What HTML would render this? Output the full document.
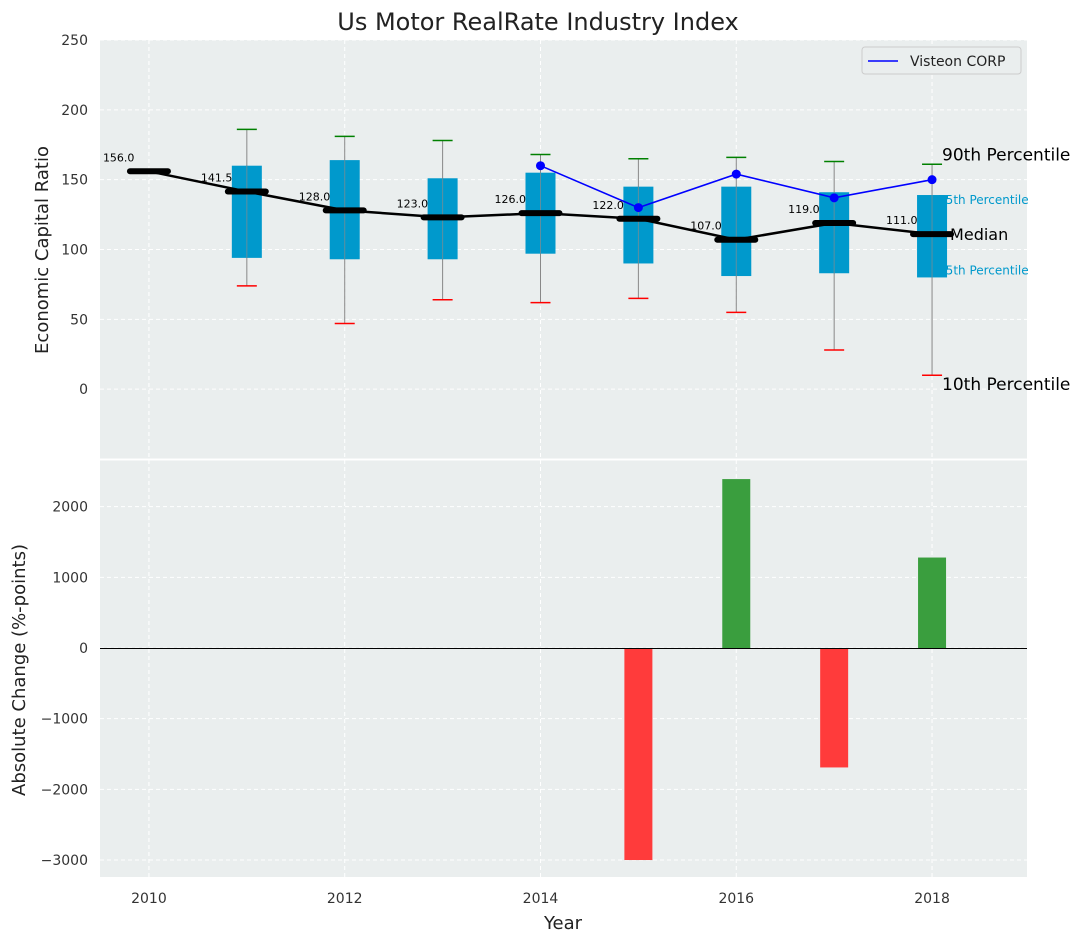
<!DOCTYPE html>
<html><head><meta charset="utf-8"><style>
body{margin:0;background:#fff;font-family:"Liberation Sans","DejaVu Sans",sans-serif;}
svg text{font-family:"DejaVu Sans","Liberation Sans",sans-serif;}
</style></head><body>
<svg id="c" width="1077" height="942" xmlns="http://www.w3.org/2000/svg"></svg>
<script>
const years=[2010,2011,2012,2013,2014,2015,2016,2017,2018];
const medians=[156,141.5,128,123,126,122,107,119,111];
const q1=[null,94,93,93,97,90,81,83,80];
const q3=[null,160,164,151,155,145,145,141,139];
const p10=[null,74,47,64,62,65,55,28,10];
const p90=[null,186,181,178,168,165,166,163,161];
const peerYears=[2014,2015,2016,2017,2018];
const peerVals=[160,130,154,137,150];
const chgYears=[2015,2016,2017,2018];
const chgVals=[-3000,2390,-1690,1280];
const topTicks=[0,50,100,150,200,250];
const botTicks=[-3000,-2000,-1000,0,1000,2000];
const xTicks=[2010,2012,2014,2016,2018];

const L=100,R=1027,T1=40,B1=459,T2=460,B2=877;
const X=v=>L+(v-2009.5)*((R-L)/9.47);
const Y1=v=>T1+(250-v)*(B1-T1)/300;
const Y2=v=>T2+(2660-v)*(B2-T2)/5900;
const svg=document.getElementById('c');
const NS='http://www.w3.org/2000/svg';
function el(tag,attrs,parent){const e=document.createElementNS(NS,tag);for(const k in attrs)e.setAttribute(k,attrs[k]);(parent||svg).appendChild(e);return e;}
function tx(x,y,s,attrs){const e=el('text',Object.assign({x:x,y:y},attrs));e.textContent=s;return e;}

let r=el('rect',{x:L,y:T1,width:R-L,height:B1-T1,fill:'#eaeeee'});

r=el('rect',{x:L,y:T2,width:R-L,height:B2-T2,fill:'#eaeeee'});


for(const t of topTicks){el('line',{x1:L,x2:R,y1:Y1(t),y2:Y1(t),stroke:'#fff','stroke-dasharray':'4,3','stroke-width':1});
 const e=tx(88,Y1(t)+5,String(t),{'text-anchor':'end','font-size':14,fill:'#333'});
 }
for(const t of botTicks){el('line',{x1:L,x2:R,y1:Y2(t),y2:Y2(t),stroke:'#fff','stroke-dasharray':'4,3','stroke-width':1});
 const e=tx(88,Y2(t)+5,(t<0?'\u2212':'')+Math.abs(t),{'text-anchor':'end','font-size':14,fill:'#333'});
 }
for(const t of xTicks){
 el('line',{x1:X(t),x2:X(t),y1:T1,y2:B1,stroke:'#fff','stroke-dasharray':'4,3'});
 el('line',{x1:X(t),x2:X(t),y1:T2,y2:B2,stroke:'#fff','stroke-dasharray':'4,3'});
 const e=tx(X(t),903,String(t),{'text-anchor':'middle','font-size':14,fill:'#333'});
 }

const i8=years.length-1,xl=X(years[i8]);
function ann(x,y,s,size,col,name){const e=tx(x,y,s,{'font-size':size,fill:col});}
ann(xl+10,Y1(p90[i8])-4,'90th Percentile',17,'#000','label-90th');
ann(xl+6,Y1(q3[i8])+9,'75th Percentile',12,'#0099cc','label-75th');
ann(xl+6,Y1(q1[i8])-3,'25th Percentile',12,'#0099cc','label-25th');
ann(xl+10,Y1(p10[i8])+15,'10th Percentile',17,'#000','label-10th');

years.forEach((y,i)=>{
 if(q1[i]==null)return;
 const x=X(y);
 let e=el('line',{x1:x,x2:x,y1:Y1(p90[i]),y2:Y1(p10[i]),stroke:'#888','stroke-width':1});
 
 e=el('rect',{x:x-15,y:Y1(q3[i]),width:30,height:Y1(q1[i])-Y1(q3[i]),fill:'#0099cc'});
 
 el('line',{x1:x,x2:x,y1:Y1(q3[i]),y2:Y1(q1[i]),stroke:'#5f8f9f','stroke-width':1});
 e=el('line',{x1:x-10,x2:x+10,y1:Y1(p90[i]),y2:Y1(p90[i]),stroke:'green','stroke-width':1.5});
 
 e=el('line',{x1:x-10,x2:x+10,y1:Y1(p10[i]),y2:Y1(p10[i]),stroke:'red','stroke-width':1.5});
 
});
let p=el('polyline',{points:years.map((y,i)=>X(y)+','+Y1(medians[i])).join(' '),fill:'none',stroke:'#000','stroke-width':2.5});

years.forEach((y,i)=>{const x=X(y);
 let e=el('line',{x1:x-19,x2:x+19,y1:Y1(medians[i]),y2:Y1(medians[i]),stroke:'#000','stroke-width':6,'stroke-linecap':'round'});
 
 e=tx(x-46,Y1(medians[i])-10,medians[i].toFixed(1),{'font-size':11,fill:'#000'});
 });
ann(xl+18,Y1(medians[i8])+6,'Median',16,'#000','label-median');
p=el('polyline',{points:peerYears.map((y,i)=>X(y)+','+Y1(peerVals[i])).join(' '),fill:'none',stroke:'blue','stroke-width':1.6});

peerYears.forEach((y,i)=>{const e=el('circle',{cx:X(y),cy:Y1(peerVals[i]),r:4.5,fill:'blue'});
 });

chgYears.forEach((y,i)=>{const v=chgVals[i];const x=X(y);
 const e=el('rect',{x:x-14,y:Math.min(Y2(v),Y2(0)),width:28,height:Math.abs(Y2(v)-Y2(0)),fill:v<0?'#ff3b3b':'#3a9e3e'});
 });
let z=el('line',{x1:L,x2:R,y1:Math.round(Y2(0))+0.5,y2:Math.round(Y2(0))+0.5,stroke:'#000','stroke-width':1});


el('line',{x1:L,x2:R,y1:459.5,y2:459.5,stroke:'#fff','stroke-width':2});

let g=el('g',{});
el('rect',{x:862,y:47,width:159,height:27,fill:'#eaeeee',stroke:'#ccc',rx:3},g);
el('line',{x1:868,x2:898,y1:61,y2:61,stroke:'blue','stroke-width':1.6},g);
let e=tx(910,66,'Visteon CORP',{'font-size':14,fill:'#222'});g.appendChild(e);

e=tx(538,30,'Us Motor RealRate Industry Index',{'text-anchor':'middle','font-size':24,fill:'#222'});

e=tx(563,929,'Year',{'text-anchor':'middle','font-size':18,fill:'#222'});

e=tx(0,0,'Economic Capital Ratio',{'text-anchor':'middle','font-size':18,fill:'#222',transform:'translate(48,250) rotate(-90)'});

e=tx(0,0,'Absolute Change (%-points)',{'text-anchor':'middle','font-size':18,fill:'#222',transform:'translate(25,670) rotate(-90)'});

</script>
</body></html>
